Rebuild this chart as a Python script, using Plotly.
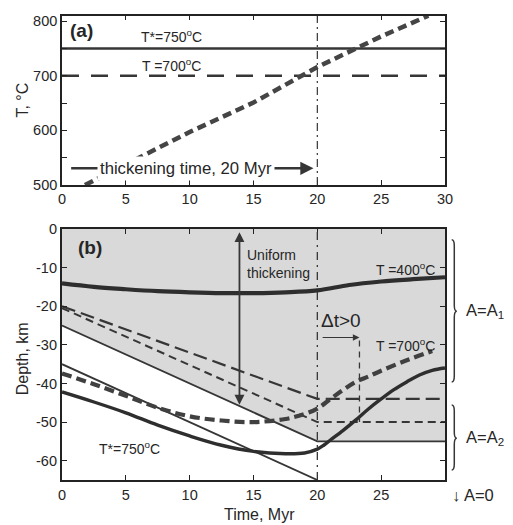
import plotly.graph_objects as go

# ---------------- data: panel (a) ----------------
a_time = [1.8, 5, 10, 15, 20, 25, 28.7]
a_temp = [500, 538, 597, 651, 716, 772, 810]
T_star = 750
T_700 = 700
thick_end = 20
a_arrow_level = 530.6

# ---------------- data: panel (b) ----------------
iso400_t = [0, 2.5, 5, 7.5, 10, 12.5, 15, 17.5, 20, 22.5, 25, 27.5, 30]
iso400_z = [-14.1, -15.0, -15.6, -16.1, -16.4, -16.6, -16.6, -16.4, -15.9, -14.5, -13.6, -13.0, -12.5]

bound_t = [0, 20, 30]
bound_z = [-25, -55, -55]

lower_t = [0, 20]
lower_z = [-35, -65]

ldash_t = [0, 20, 30]
ldash_z = [-20, -44, -44]

sdash_t = [0, 20, 30]
sdash_z = [-20.5, -50, -50]

iso700_t = [0, 2.5, 5, 7.5, 10, 12.5, 15, 17.5, 19, 20, 21, 22, 23, 24, 25, 27, 29]
iso700_z = [-37.4, -40.2, -43.2, -46.3, -48.5, -49.6, -50.0, -49.2, -47.9, -46.5, -44.1, -41.7, -39.6, -38.2, -36.7, -34.0, -31.6]

iso750_t = [0, 2.5, 5, 7.5, 10, 12.5, 15, 17.5, 19, 20, 20.5, 21, 22, 23, 24, 25, 26, 27, 28, 29, 30]
iso750_z = [-42.2, -44.8, -47.6, -50.8, -53.6, -56.0, -57.6, -58.2, -58.0, -57.0, -56.0, -54.7, -52.2, -49.5, -46.6, -44.0, -41.6, -39.6, -37.8, -36.6, -36.0]

dt_start = 20.3
dt_end = 23.3
dt_level = -28.1
uni_t = 13.9
uni_top = -0.3
uni_bot = -45.5

b_yvals = [-60, -50, -40, -30, -20, -10, 0]
b_ytext = ["-60", "-50", "-40", "-30", "-20", "-10", "0"]
x_vals = [0, 5, 10, 15, 20, 25, 30]
b_xvals = [0, 5, 10, 15, 20, 25]
a_yvals = [500, 600, 700, 800]

FONT = "Liberation Sans, Arial, Helvetica, sans-serif"
TXT = "#262626"
LN = "#363636"

fig = go.Figure()

# ---- panel (a) ----
fig.add_trace(go.Scatter(x=[0, 30], y=[T_star, T_star], mode="lines",
                         line=dict(color=LN, width=2.6), xaxis="x", yaxis="y"))
fig.add_trace(go.Scatter(x=[0, 30], y=[T_700, T_700], mode="lines",
                         line=dict(color=LN, width=2.4, dash="17px,12px"), xaxis="x", yaxis="y"))
fig.add_trace(go.Scatter(x=a_time, y=a_temp, mode="lines",
                         line=dict(color="#454545", width=4.5, dash="9px,5px"), xaxis="x", yaxis="y"))

# ---- panel (b) ----
fill_x = bound_t + [30, 0, 0]
fill_y = bound_z + [0, 0, bound_z[0]]
fig.add_trace(go.Scatter(x=fill_x, y=fill_y, mode="lines", fill="toself",
                         fillcolor="#d9d9d9", line=dict(width=0), xaxis="x2", yaxis="y2"))
fig.add_trace(go.Scatter(x=bound_t, y=bound_z, mode="lines",
                         line=dict(color=LN, width=1.9), xaxis="x2", yaxis="y2"))
fig.add_trace(go.Scatter(x=lower_t, y=lower_z, mode="lines",
                         line=dict(color=LN, width=1.9), xaxis="x2", yaxis="y2"))
fig.add_trace(go.Scatter(x=ldash_t, y=ldash_z, mode="lines",
                         line=dict(color=LN, width=2.2, dash="14px,6px"), xaxis="x2", yaxis="y2"))
fig.add_trace(go.Scatter(x=sdash_t, y=sdash_z, mode="lines",
                         line=dict(color=LN, width=2.0, dash="8px,5px"), xaxis="x2", yaxis="y2"))
fig.add_trace(go.Scatter(x=iso400_t, y=iso400_z, mode="lines", line_shape="spline",
                         line=dict(color="#2e2e2e", width=4.2), xaxis="x2", yaxis="y2"))
fig.add_trace(go.Scatter(x=iso700_t, y=iso700_z, mode="lines", line_shape="spline",
                         line=dict(color="#404040", width=4.2, dash="10px,5px"), xaxis="x2", yaxis="y2"))
fig.add_trace(go.Scatter(x=iso750_t, y=iso750_z, mode="lines", line_shape="spline",
                         line=dict(color="#2e2e2e", width=3.4), xaxis="x2", yaxis="y2"))

# vertical reference lines
fig.add_shape(type="line", xref="x", yref="y domain", x0=thick_end, x1=thick_end, y0=0, y1=1,
              line=dict(color=LN, width=1.2, dash="8px,4px,2px,4px"))
fig.add_shape(type="line", xref="x2", yref="y2 domain", x0=thick_end, x1=thick_end, y0=0, y1=1,
              line=dict(color=LN, width=1.3, dash="8px,5px,2px,5px"))
fig.add_shape(type="line", xref="x2", yref="y2", x0=dt_end, x1=dt_end, y0=dt_level - 0.8, y1=sdash_z[-1],
              line=dict(color=LN, width=1.3, dash="6px,5px"))

top_dom = [0.6344, 0.9985]
bot_dom = [0.0, 0.5398]


def ypap(z):
    return bot_dom[0] + (z + 65) / 65 * (bot_dom[1] - bot_dom[0])


def brace(xl, w, zt, zb, zm):
    yt, yb, ym = ypap(zt), ypap(zb), ypap(zm)
    r = 6 / 465
    xm = xl + w * 0.5
    xt = xl + w
    return (f"M {xl},{yt} Q {xm},{yt} {xm},{yt - r} L {xm},{ym + r} "
            f"Q {xm},{ym} {xt},{ym} Q {xm},{ym} {xm},{ym - r} "
            f"L {xm},{yb + r} Q {xm},{yb} {xl},{yb}")


for zt, zb, zm in [(-2.8, -39.6, -21.3), (-45.6, -62.4, -54.2)]:
    fig.add_shape(type="path", xref="paper", yref="paper", path=brace(1.0175, 0.0135, zt, zb, zm),
                  line=dict(color=LN, width=1.5))

ann = []


def txt(x, y, s, size=14, xref="x2", yref="y2", xanchor="center", yanchor="middle", **kw):
    d = dict(x=x, y=y, text=s, xref=xref, yref=yref, showarrow=False, xanchor=xanchor,
             yanchor=yanchor, font=dict(family=FONT, size=size, color=TXT))
    d.update(kw)
    ann.append(d)


def arrow(x, y, ax, ay, xref, yref, width, size, both=False):
    d = dict(x=x, y=y, ax=ax, ay=ay, xref=xref, yref=yref, axref=xref, ayref=yref,
             text=" ", font=dict(size=1), showarrow=True, arrowhead=2, arrowsize=size,
             arrowwidth=width, arrowcolor=LN, standoff=0, startstandoff=0)
    if both:
        d.update(arrowside="end+start", startarrowhead=2, startarrowsize=size)
    ann.append(d)


# panel (a) texts
txt(0.5, 783, "<b>(a)</b>", size=19, xref="x", yref="y", xanchor="left")
txt(8.6, 773, "T*=750<sup>o</sup>C", size=14, xref="x", yref="y")
txt(8.6, 720, "T =700<sup>o</sup>C", size=14, xref="x", yref="y")
arrow(thick_end - 0.3, a_arrow_level, 0.6, a_arrow_level, "x", "y", 2.4, 1.1)
txt(9.75, a_arrow_level, "thickening time, 20 Myr", size=16.7, xref="x", yref="y",
    bgcolor="white", borderpad=2)

# panel (b) texts
txt(1.1, -4.9, "<b>(b)</b>", size=19, xanchor="left")
arrow(uni_t, uni_bot, uni_t, uni_top, "x2", "y2", 1.8, 1.1, both=True)
txt(14.3, -9.0, "Uniform<br>thickening", size=14, xanchor="left", align="left")
txt(29.4, -10.4, "T =400<sup>o</sup>C", size=14, xanchor="right")
txt(29.4, -30.0, "T =700<sup>o</sup>C", size=14, xanchor="right")
txt(5.25, -56.7, "T*=750<sup>o</sup>C", size=14)
arrow(dt_end, dt_level, dt_start, dt_level, "x2", "y2", 1.1, 1.2)
txt(20.15, -23.6, "\u0394t>0", size=19, xanchor="left")

# right-side labels
txt(1.0496, -21.3, "A=A<sub>1</sub>", size=16.5, xref="paper", xanchor="left")
txt(1.0496, -54.2, "A=A<sub>2</sub>", size=16.5, xref="paper", xanchor="left")
txt(1.012, ypap(-68.9), "\u2193 A=0", size=16.5, xref="paper", yref="paper", xanchor="left")

# axis titles
txt(-0.104, 0.5 * (top_dom[0] + top_dom[1]), "T, \u00b0C", size=16, xref="paper", yref="paper", textangle=-90)
txt(-0.104, ypap(-33.7), "Depth, km", size=16, xref="paper", yref="paper", textangle=-90)
txt(0.515, -0.075, "Time, Myr", size=16, xref="paper", yref="paper")

axis_common = dict(ticks="inside", ticklen=5, tickwidth=1.2, tickcolor="#222", mirror="ticks",
                   showline=True, linecolor="#222", showgrid=False, zeroline=False,
                   tickfont=dict(family=FONT, size=14.5, color=TXT), automargin=False)

# The page body has an 8px default margin, so the figure is shrunk by 8px and margins shifted.
fig.update_layout(
    width=505, height=517,
    margin=dict(l=54, r=68, t=7, b=45),
    paper_bgcolor="white", plot_bgcolor="white", showlegend=False,
    font=dict(family=FONT, size=14, color=TXT),
    xaxis=dict(domain=[0, 1], range=[0, 30], anchor="y", tickvals=x_vals,
               linewidth=1.6, **axis_common),
    yaxis=dict(domain=top_dom, range=[500, 810], anchor="x", tickvals=a_yvals,
               linewidth=1.6,
               minor=dict(tick0=500, dtick=50, ticks="inside", ticklen=5, tickwidth=1.2,
                          tickcolor="#222", showgrid=False),
               **axis_common),
    xaxis2=dict(domain=[0, 1], range=[0, 30], anchor="y2", tickvals=b_xvals,
                linewidth=2.2, **axis_common),
    yaxis2=dict(domain=bot_dom, range=[-65, 0], anchor="x2", tickvals=b_yvals, ticktext=b_ytext,
                linewidth=2.2, **axis_common),
    annotations=ann,
)

fig.write_html("out.html")
